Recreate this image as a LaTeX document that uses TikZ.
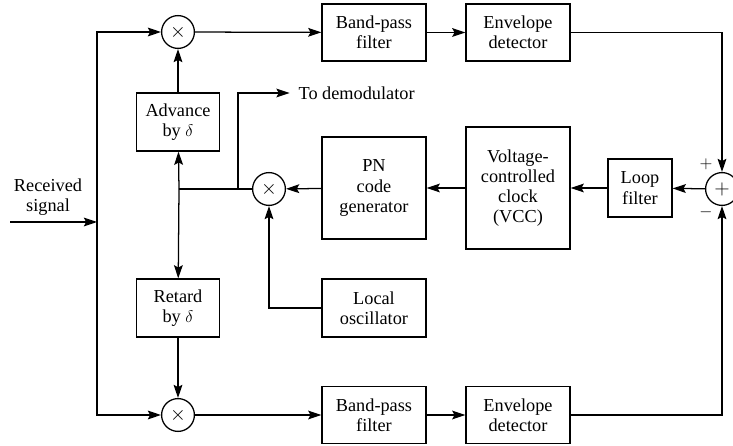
\documentclass[tikz,border=0pt]{standalone}
\usepackage{fontspec}
\setmainfont{Liberation Serif}
\usepackage{amsmath}
\usetikzlibrary{arrows.meta}

\begin{document}
\begin{tikzpicture}[x=0.025cm,y=-0.025cm,
            line width=0.9pt,
            font=\fontsize{13}{14.4}\selectfont,
            >={Stealth[length=3.3mm,width=2.2mm,inset=0.6mm]},
            blk/.style={draw,align=center,inner sep=1pt},
            mix/.style={draw,circle,minimum size=0.82cm,inner sep=0pt,font=\Large}]
            \useasboundingbox (0,0) rectangle (733,446);

            \node[mix] (mixt) at (178,32) {$\times$};
            \node[mix] (mixb) at (178,415) {$\times$};
            \node[mix] (mixm) at (269,189) {$\times$};
            \node[mix] (sum) at (722,189) {$+$};

            \node[blk,minimum width=2.6cm,minimum height=1.43cm] (bpft) at (374,32.5) {Band-pass\\filter};
            \node[blk,minimum width=2.6cm,minimum height=1.43cm] (envt) at (518,32.5) {Envelope\\detector};
            \node[blk,minimum width=2.6cm,minimum height=1.43cm] (bpfb) at (374,415) {Band-pass\\filter};
            \node[blk,minimum width=2.6cm,minimum height=1.43cm] (envb) at (518,415) {Envelope\\detector};

            \node[blk,minimum width=1.6cm,minimum height=1.45cm] (loop) at (640,188) {Loop\\filter};
            \node[blk,minimum width=2.6cm,minimum height=3.05cm] (vcc) at (518,188) {Voltage-\\controlled\\clock\\(VCC)};
            \node[blk,minimum width=2.6cm,minimum height=2.55cm] (pn) at (374,188) {PN\\code\\generator};
            \node[blk,minimum width=2.6cm,minimum height=1.45cm] (lo) at (374,308) {Local\\oscillator};

            \node[blk,minimum width=2.08cm,minimum height=1.45cm] (adv) at (178,122) {Advance\\by $\delta$};
            \node[blk,minimum width=2.08cm,minimum height=1.45cm] (ret) at (178,308) {Retard\\by $\delta$};

            \node[align=center] (recv) at (48,197) {Received\\signal};
            \node[anchor=west,inner sep=0pt] (demod) at (298,93) {To demodulator};
            \node (plus) at (706,164) {$+$};
            \node (minus) at (706,212) {$-$};

            \coordinate (in) at (10,222);
            \coordinate (split) at (97,222);
            \coordinate (j) at (179,189);
            \coordinate (br) at (238,189);

            \draw[->] (in) -- (split);
            \draw[->] (split) |- (mixt);
            \draw[->] (split) |- (mixb);
            \draw[->] (mixt) -- (bpft);
            \draw[->] (bpft) -- (envt);
            \draw[->] (envt) -| (sum);
            \draw[->] (mixb) -- (bpfb);
            \draw[->] (bpfb) -- (envb);
            \draw[->] (envb) -| (sum);
            \draw[->] (sum) -- (loop);
            \draw[->] (loop) -- (vcc);
            \draw[->] (vcc) -- (pn);
            \draw[->] (pn) -- (mixm);
            \draw (mixm) -- (j);
            \draw[->] (j) -- (adv);
            \draw[->] (j) -- (ret);
            \draw[->] (adv) -- (mixt);
            \draw[->] (ret) -- (mixb);
            \draw[->] (lo) -| (mixm);
            \draw[->] (br) |- ([xshift=-6pt]demod.west);
         \end{tikzpicture}
\end{document}
